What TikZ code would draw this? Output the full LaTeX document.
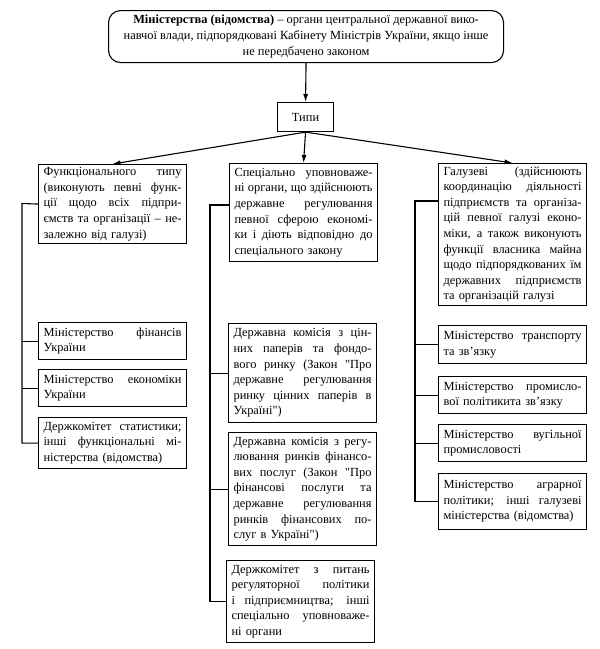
\documentclass[tikz,border=0pt]{standalone}
\usepackage{fontspec}
\setmainfont{Liberation Serif}
\usetikzlibrary{arrows.meta}
\newlength\boxtw
\setlength\boxtw{138pt}
\newcommand\jl[1]{\leavevmode\hbox to \boxtw{\spaceskip=0pt\xspaceskip=0pt #1}\\}
\newcommand\qq{\textquotedbl{}}
\begin{document}
\begin{tikzpicture}[x=1pt,y=-1pt,
  font=\fontsize{12.4}{15.6}\selectfont,
  box/.style={draw, line width=1.1pt, anchor=north west, inner xsep=5pt, inner ysep=2pt, align=left, text width=\boxtw},
  conn/.style={line width=1.1pt},
  arr/.style={line width=1.1pt, -{Latex[length=8pt,width=5pt]}}]
\useasboundingbox (0,0) rectangle (600,649);
\fill[white] (0,0) rectangle (600,649);

\node[draw, line width=1.1pt, rounded corners=12pt, anchor=north west, minimum width=395pt, minimum height=52pt, align=center, inner sep=2pt] (T) at (108,10)
 {\textbf{Міністерства (відомства)} – органи центральної державної вико-\\
  навчої влади, підпорядковані Кабінету Міністрів України, якщо інше\\
  не передбачено законом};

\node[draw, line width=1.1pt, anchor=north west, minimum width=56pt, minimum height=29pt] (types) at (277,102) {Типи};

% level 1
\node[box, minimum height=79pt] (F) at (38,164)
 {\jl{Функціонального типу}\jl{(виконують певні функ-}\jl{ції щодо всіх підпри-}\jl{ємств та організації – не-}залежно від галузі)};
\node[box, minimum height=98pt] (S) at (229,163)
 {\jl{Спеціально уповноваже-}\jl{ні органи, що здійснюють}\jl{державне регулювання}\jl{певної сферою економі-}\jl{ки і діють відповідно до}спеціального закону};
\node[box, minimum height=142pt] (G) at (438,163)
 {\jl{Галузеві (здійснюють}\jl{координацію діяльності}\jl{підприємств та організа-}\jl{цій певної галузі еконо-}\jl{міки, а також виконують}\jl{функції власника майна}\jl{щодо підпорядкованих їм}\jl{державних підприємств}та організацій галузі};

% functional column
\node[box, minimum height=37pt] (F1) at (38,322) {\jl{Міністерство фінансів}України};
\node[box, minimum height=37pt] (F2) at (38,369) {\jl{Міністерство економіки}України};
\node[box, minimum height=51pt] (F3) at (38,417) {\jl{Держкомітет статистики;}\jl{інші функціональні мі-}ністерства (відомства)};

% special column
\node[box, minimum height=99pt] (S1) at (228,323)
 {\jl{Державна комісія з цін-}\jl{них паперів та фондо-}\jl{вого ринку (Закон \qq Про}\jl{державне регулювання}\jl{ринку цінних паперів в}Україні\qq)};
\node[box, minimum height=113pt] (S2) at (228,432)
 {\jl{Державна комісія з регу-}\jl{лювання ринків фінансо-}\jl{вих послуг (Закон \qq Про}\jl{фінансові послуги та}\jl{державне регулювання}\jl{ринків фінансових по-}слуг в Україні\qq)};
\node[box, minimum height=82pt] (S3) at (226,560)
 {\jl{Держкомітет з питань}\jl{регуляторної політики}\jl{і підприємництва; інші}\jl{спеціально уповноваже-}ні органи};

% branch column
\node[box, minimum height=38pt] (G1) at (438,325) {\jl{Міністерство транспорту}та зв'язку};
\node[box, minimum height=37pt] (G2) at (438,376) {\jl{Міністерство промисло-}вої політикита зв'язку};
\node[box, minimum height=37pt] (G3) at (438,424) {\jl{Міністерство вугільної}промисловості};
\node[box, minimum height=56pt] (G4) at (438,473) {\jl{Міністерство аграрної}\jl{політики; інші галузеві}міністерства (відомства)};

% arrows
\draw[arr] (T.south) -- (types.north);
\draw[arr] (types.south) -- (F.north);
\draw[arr] (types.south) -- (S.north);
\draw[arr] (types.south) -- (G.north);

% buses
\coordinate (fb) at (22,203.5);
\draw[conn] (F.west) -- (fb) |- (F3.west);
\draw[conn] (fb |- F1.west) -- (F1.west);
\draw[conn] (fb |- F2.west) -- (F2.west);

\coordinate (sb) at (210,205);
\draw[conn] (S.west |- sb) -- (sb) |- (S3.west);
\draw[conn] (sb |- S1.west) -- (S1.west);
\draw[conn] (sb |- S2.west) -- (S2.west);

\coordinate (gb) at (415,201);
\draw[conn] (G.west |- gb) -- (gb) |- (G4.west);
\draw[conn] (gb |- G1.west) -- (G1.west);
\draw[conn] (gb |- G2.west) -- (G2.west);
\draw[conn] (gb |- G3.west) -- (G3.west);
\end{tikzpicture}
\end{document}
